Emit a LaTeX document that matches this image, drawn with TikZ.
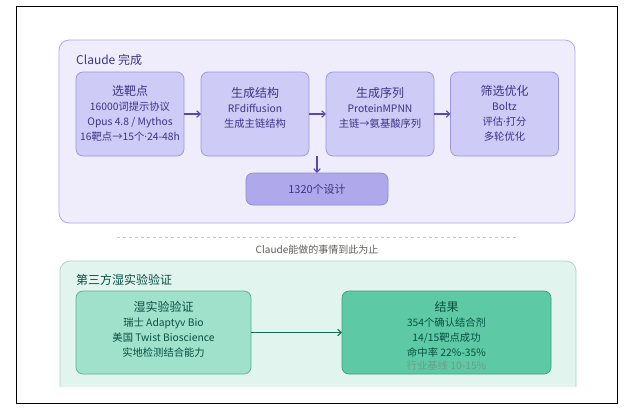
\documentclass[tikz,border=0pt]{standalone}
\usepackage{fontspec}
\setmainfont{Noto Sans CJK SC}
\newfontfamily\latinf{Noto Sans}
\newcommand{\mdot}{{\latinf ·}}
\usetikzlibrary{arrows.meta}
\definecolor{pbg}{HTML}{EFEDFC}
\definecolor{pbd}{HTML}{AFA9EC}
\definecolor{pbox}{HTML}{CECBF6}
\definecolor{pboxd}{HTML}{9D95DD}
\definecolor{pdark}{HTML}{AFA9EC}
\definecolor{pdarkd}{HTML}{8F87D8}
\definecolor{ptxt}{HTML}{3C3489}
\definecolor{parr}{HTML}{534AB7}
\definecolor{gbg}{HTML}{E1F5EE}
\definecolor{gbd}{HTML}{A5D9C6}
\definecolor{gboxl}{HTML}{9FE1CB}
\definecolor{gboxld}{HTML}{5DB08F}
\definecolor{gboxr}{HTML}{5DCAA5}
\definecolor{gboxrd}{HTML}{3D9C7C}
\definecolor{gtxt}{HTML}{085041}
\definecolor{garr}{HTML}{0F6E56}
\definecolor{gmute}{HTML}{6E9C8C}
\definecolor{graytxt}{HTML}{5F5E5A}
\begin{document}
\begin{tikzpicture}[x=1pt,y=-1pt,
  panelP/.style={draw=pbd,fill=pbg,rounded corners=10pt,line width=0.8pt,inner sep=0pt,outer sep=0pt},
  panelG/.style={draw=gbd,fill=gbg,rounded corners=10pt,line width=0.8pt,inner sep=0pt,outer sep=0pt},
  boxP/.style={draw=pboxd,fill=pbox,rounded corners=7pt,line width=0.7pt,minimum width=108pt,minimum height=84pt,inner sep=0pt,outer sep=0pt},
  boxD/.style={draw=pdarkd,fill=pdark,rounded corners=7pt,line width=0.7pt,minimum width=142pt,minimum height=32pt,inner sep=0pt,outer sep=0pt,text=ptxt,font=\fontsize{11}{13}\selectfont},
  boxGL/.style={draw=gboxld,fill=gboxl,rounded corners=7pt,line width=0.7pt,minimum width=175pt,minimum height=83pt,inner sep=0pt,outer sep=0pt},
  boxGR/.style={draw=gboxrd,fill=gboxr,rounded corners=7pt,line width=0.7pt,minimum width=209pt,minimum height=83pt,inner sep=0pt,outer sep=0pt},
  txtP/.style={text=ptxt,align=center,font=\fontsize{10.3}{15}\selectfont,inner sep=0pt},
  txtG/.style={text=gtxt,align=center,font=\fontsize{10.3}{15}\selectfont,inner sep=0pt},
  titleP/.style={text=ptxt,anchor=west,font=\fontsize{12}{14}\selectfont,inner sep=0pt},
  titleG/.style={text=gtxt,anchor=west,font=\fontsize{12}{14}\selectfont,inner sep=0pt},
  arrP/.style={draw=parr,line width=1.1pt,-{Straight Barb[length=3.5pt,width=6.5pt]}},
  arrG/.style={draw=garr,line width=1.1pt,-{Straight Barb[length=3.5pt,width=6.5pt]}},
  dashln/.style={draw=black!22,line width=0.7pt,dash pattern=on 3pt off 3pt}
]
\useasboundingbox (0,0) rectangle (631,408);
\fill[white] (0,0) rectangle (631,408);
\node[draw=black,line width=1pt,minimum width=601pt,minimum height=397pt,inner sep=0pt,outer sep=0pt] (frame) at (316.5,204.5) {};

% Claude panel
\node[panelP,minimum width=516pt,minimum height=183pt] (pp) at (317,131.5) {};
\node[titleP] (tp) at (76,60) {Claude 完成};

\node[boxP] (b1) at (130,114) {};
\node[boxP] (b2) at (255,114) {};
\node[boxP] (b3) at (380,114) {};
\node[boxP] (b4) at (504.5,114) {};
\node[boxD] (d) at (317,189) {1320个设计};

\node[txtP] (t1) at (130,113) {{\fontsize{12}{15}\selectfont 选靶点}\\16000词提示协议\\Opus 4.8 / Mythos\\16靶点→15个\mdot24-48h};
\node[txtP] (t2) at (255,108) {{\fontsize{12}{15}\selectfont 生成结构}\\RFdiffusion\\生成主链结构};
\node[txtP] (t3) at (380,108) {{\fontsize{12}{15}\selectfont 生成序列}\\ProteinMPNN\\主链→氨基酸序列};
\node[txtP] (t4) at (504.5,113.5) {{\fontsize{12}{15}\selectfont 筛选优化}\\Boltz\\评估\mdot 打分\\多轮优化};

\draw[arrP] (b1.east) -- (b2.west);
\draw[arrP] (b2.east) -- (b3.west);
\draw[arrP] (b3.east) -- (b4.west);
\draw[arrP] (d.north |- b2.south) -- (d.north);

% divider
\coordinate (dl) at (117,237);
\coordinate (dr) at (517,237);
\draw[dashln] (dl) -- (dr);
\node[text=graytxt,font=\fontsize{10}{12}\selectfont,inner sep=0pt] (lim) at (317,250) {Claude能做的事情到此为止};

% wet lab panel
\begin{scope}
\clip (0,0) rectangle (631,386);
\node[panelG,minimum width=516pt,minimum height=160pt,anchor=north west] (gp) at (60,261) {};
\end{scope}
\node[titleG] (tg) at (76,280) {第三方湿实验验证};

\node[boxGL] (gl) at (163.5,332.5) {};
\node[boxGR] (gr) at (446.5,332.5) {};
\node[txtG,anchor=north] (tgl) at (163.5,301) {{\fontsize{12}{15}\selectfont 湿实验验证}\\瑞士 Adaptyv Bio\\美国 Twist Bioscience\\实地检测结合能力};
\node[txtG,anchor=north] (tgr) at (446.5,301) {{\fontsize{12}{15}\selectfont 结果}\\354个确认结合剂\\14/15靶点成功\\命中率 22\%-35\%\\[-1.5pt]{\color{gmute}行业基线 10-15\%}};

\draw[arrG] (gl.east) -- (gr.west);
\end{tikzpicture}
\end{document}
